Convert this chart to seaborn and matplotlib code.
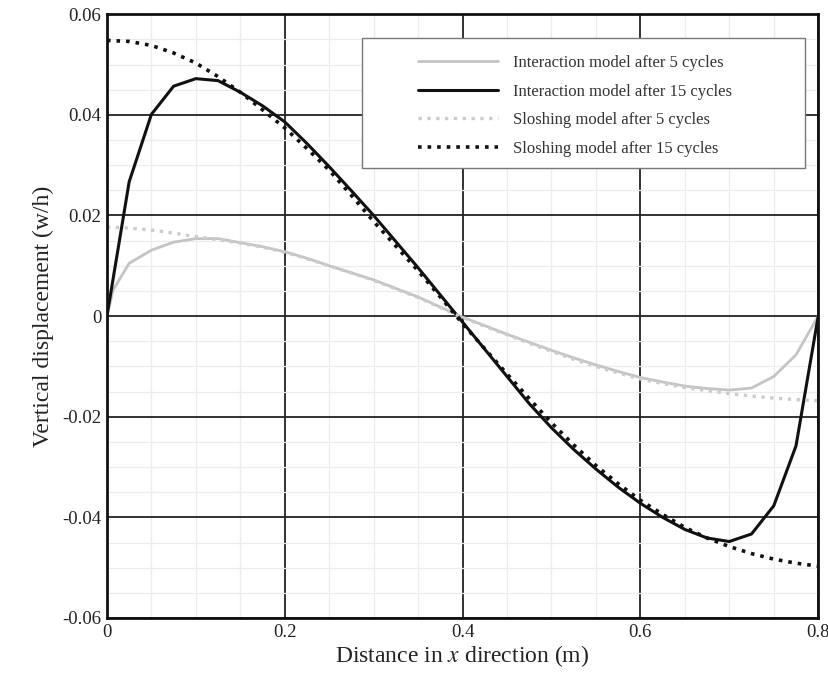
import matplotlib
matplotlib.use("Agg")
import matplotlib.pyplot as plt
import seaborn as sns
import pandas as pd
from matplotlib.ticker import MultipleLocator
from matplotlib.patches import Rectangle

# values (x in m, w/h)
x_int15 = [0, 0.025, 0.05, 0.075, 0.1, 0.125, 0.15, 0.175, 0.2, 0.225, 0.25, 0.275,
           0.3, 0.325, 0.35, 0.375, 0.4, 0.425, 0.45, 0.475, 0.5, 0.525, 0.55, 0.575,
           0.6, 0.625, 0.65, 0.675, 0.7, 0.725, 0.75, 0.775, 0.8]
y_int15 = [0, 0.0267, 0.0401, 0.0457, 0.0472, 0.0468, 0.0445, 0.0418, 0.0386, 0.0343,
           0.0297, 0.0249, 0.0200, 0.0148, 0.0096, 0.0042, -0.0012, -0.0066, -0.0120,
           -0.0174, -0.0222, -0.0265, -0.0304, -0.0340, -0.0372, -0.0400, -0.0424,
           -0.0441, -0.0448, -0.0433, -0.0377, -0.0258, 0.0]

x_int5 = [0, 0.007, 0.025, 0.05, 0.075, 0.1, 0.125, 0.15, 0.175, 0.2, 0.225, 0.25,
          0.275, 0.3, 0.325, 0.35, 0.375, 0.4, 0.425, 0.45, 0.475, 0.5, 0.525, 0.55,
          0.575, 0.6, 0.625, 0.65, 0.675, 0.7, 0.725, 0.75, 0.775, 0.8]
y_int5 = [0, 0.0052, 0.0105, 0.0131, 0.0147, 0.0154, 0.0154, 0.0146, 0.0138, 0.0128,
          0.0115, 0.0100, 0.0086, 0.0072, 0.0055, 0.0038, 0.0018, -0.0002, -0.0019,
          -0.0036, -0.0052, -0.0068, -0.0083, -0.0097, -0.0110, -0.0122, -0.0131,
          -0.0139, -0.0144, -0.0147, -0.0143, -0.0120, -0.0077, 0.0]

x_slosh = [0, 0.025, 0.05, 0.075, 0.1, 0.125, 0.15, 0.175, 0.2, 0.225, 0.25, 0.275,
           0.3, 0.325, 0.35, 0.375, 0.4, 0.425, 0.45, 0.475, 0.5, 0.525, 0.55, 0.575,
           0.6, 0.625, 0.65, 0.675, 0.7, 0.725, 0.75, 0.775, 0.8]
y_slosh5 = [0.0177, 0.0175, 0.0171, 0.0165, 0.0158, 0.0152, 0.0145, 0.0137, 0.0127,
            0.0114, 0.0100, 0.0086, 0.0071, 0.0054, 0.0037, 0.0017, -0.0003, -0.0020,
            -0.0037, -0.0054, -0.0070, -0.0086, -0.0100, -0.0113, -0.0125, -0.0134,
            -0.0142, -0.0148, -0.0154, -0.0159, -0.0163, -0.0166, -0.0168]
y_slosh15 = [0.0548, 0.0546, 0.0538, 0.0523, 0.0503, 0.0476, 0.0445, 0.0410, 0.0374,
             0.0333, 0.0290, 0.0240, 0.0188, 0.0139, 0.0090, 0.0038, -0.0015, -0.0065,
             -0.0115, -0.0164, -0.0212, -0.0256, -0.0297, -0.0333, -0.0366, -0.0394,
             -0.0420, -0.0441, -0.0458, -0.0472, -0.0483, -0.0491, -0.0497]

labels = ["Interaction model after 5 cycles", "Interaction model after 15 cycles",
          "Sloshing model after 5 cycles", "Sloshing model after 15 cycles"]

sns.set_style("white")
plt.rcParams["font.family"] = ["Liberation Serif", "DejaVu Serif"]
plt.rcParams["mathtext.fontset"] = "stix"

fig = plt.figure(figsize=(8.29, 6.78), dpi=100)
ax = fig.add_axes([0.129, 0.0885, 0.858, 0.8905])

series = [
    (x_int5, y_int5, labels[0], "#c4c4c4", "-", 2.0),
    (x_int15, y_int15, labels[1], "#111111", "-", 2.2),
    (x_slosh, y_slosh5, labels[2], "#cccccc", ":", 2.4),
    (x_slosh, y_slosh15, labels[3], "#111111", ":", 2.6),
]
for xs, ys, lab, col, ls, lw in series:
    df = pd.DataFrame({"x": xs, "y": ys})
    sns.lineplot(data=df, x="x", y="y", ax=ax, color=col, linestyle=ls,
                 linewidth=lw, label=lab, sort=False, estimator=None)

ax.set_xlim(0, 0.8)
ax.set_ylim(-0.06, 0.06)
ax.xaxis.set_minor_locator(MultipleLocator(0.05))
ax.yaxis.set_minor_locator(MultipleLocator(0.005))
ax.set_xticks([0, 0.2, 0.4, 0.6, 0.8])
ax.set_xticklabels(["0", "0.2", "0.4", "0.6", "0.8"])
ax.set_yticks([-0.06, -0.04, -0.02, 0, 0.02, 0.04, 0.06])
ax.set_yticklabels(["-0.06", "-0.04", "-0.02", "0", "0.02", "0.04", "0.06"])

ax.grid(which="minor", color="#ececec", linewidth=0.9)
ax.grid(which="major", color="#222222", linewidth=1.3)
ax.set_axisbelow(True)
ax.tick_params(which="major", direction="in", length=7, width=1.5, labelsize=13.5,
               colors="#222222", pad=4)
ax.tick_params(which="minor", direction="in", length=4, width=1.0, colors="#333333")
for sp in ax.spines.values():
    sp.set_color("#111111")
    sp.set_linewidth(2.0)

ax.set_xlabel("Distance in $x$ direction (m)", fontsize=17, color="#222222", labelpad=2)
ax.set_ylabel("Vertical displacement (w/h)", fontsize=17, color="#222222", labelpad=6)

# legend box drawn separately so the wide inner margin matches
box = Rectangle((0.359, 0.745), 0.623, 0.215, transform=ax.transAxes,
                facecolor="white", edgecolor="#777777", linewidth=1.0, zorder=4)
ax.add_patch(box)
leg = ax.legend(loc="upper left", bbox_to_anchor=(0.4374, 0.932), fontsize=12,
                frameon=False, handlelength=4.8, handletextpad=0.9,
                borderpad=0, labelspacing=0.75, borderaxespad=0)
leg.set_zorder(5)
for t in leg.get_texts():
    t.set_color("#333333")

fig.savefig("out.png", dpi=100)
